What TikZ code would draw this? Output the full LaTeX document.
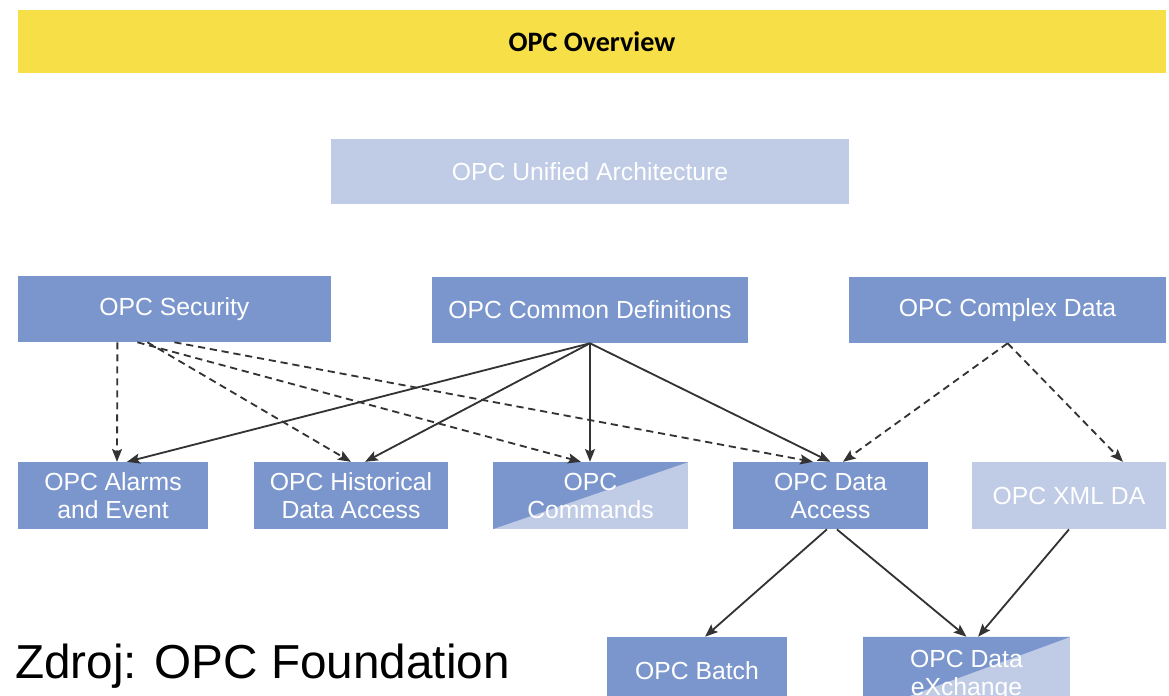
\documentclass[tikz,border=0pt]{standalone}
\usepackage{fontspec}
\setmainfont{Liberation Sans}
\newfontfamily\titlefont{Carlito}
\usetikzlibrary{arrows.meta}
\definecolor{OPCYellow}{HTML}{F7DF48}
\definecolor{OPCBlue}{HTML}{7B96CC}
\definecolor{OPCLight}{HTML}{C0CBE6}
\definecolor{OPCLine}{HTML}{333333}

\tikzset{
  spec/.style={fill=OPCBlue,text=white,inner sep=0pt,align=center,
    font=\fontsize{17.6}{19.9}\selectfont},
  specfaded/.style={spec,fill=OPCLight},
  spechalf/.style={spec,fill=OPCLight,path picture={
    \fill[OPCBlue] (path picture bounding box.north west) --
      (path picture bounding box.north east) --
      (path picture bounding box.south west) -- cycle;}},
  uses/.style={draw=OPCLine,line width=1.3pt,
    -{Stealth[length=0.32cm,width=0.25cm,inset=0.06cm]}},
  optional/.style={uses,dash pattern=on 0.18cm off 0.12cm}
}

\begin{document}
\begin{tikzpicture}[x=1cm,y=1cm]
\clip (0,0) rectangle (29.225,17.40);
\fill[white] (0,0) rectangle (29.225,17.40);

% header bar
\node[fill=OPCYellow,minimum width=28.70cm,minimum height=1.575cm,inner sep=0pt,
  font=\titlefont\bfseries\fontsize{20}{24}\selectfont] (title) at (14.80,16.36) {OPC Overview};

% top layers
\node[specfaded,minimum width=12.95cm,minimum height=1.625cm] (ua) at (14.75,13.11) {OPC Unified Architecture};
\node[spec,minimum width=7.825cm,minimum height=1.65cm] (sec) at (4.36,9.675) {OPC Security};
\node[spec,minimum width=7.90cm,minimum height=1.65cm] (cdef) at (14.75,9.65) {OPC Common Definitions};
\node[spec,minimum width=7.925cm,minimum height=1.65cm] (cpx) at (25.19,9.65) {OPC Complex Data};

% specifications
\node[spec,minimum width=4.75cm,minimum height=1.675cm] (alarm) at (2.825,5.01) {OPC Alarms\\and Event};
\node[spec,minimum width=4.85cm,minimum height=1.675cm] (hist) at (8.775,5.01) {OPC Historical\\Data Access};
\node[spechalf,minimum width=4.875cm,minimum height=1.675cm] (cmd) at (14.7625,5.01) {OPC\\Commands};
\node[spec,minimum width=4.875cm,minimum height=1.675cm] (da) at (20.7625,5.01) {OPC Data\\Access};
\node[specfaded,minimum width=4.85cm,minimum height=1.675cm] (xml) at (26.725,5.01) {OPC XML DA};
\node[spec,minimum width=4.50cm,minimum height=1.675cm] (batch) at (17.425,0.6375) {OPC Batch};
\node[spechalf,minimum width=5.175cm,minimum height=1.90cm] (dx) at (24.1625,0.525) {OPC Data\\eXchange};

% security (dashed)
\draw[optional] ([xshift=-1.425cm]sec.south) -- ([xshift=0.10cm]alarm.north);
\draw[optional] ([xshift=-0.675cm]sec.south) -- (hist.north);
\draw[optional] ([xshift=-0.925cm]sec.south) -- ([xshift=-0.24cm]cmd.north);
\draw[optional] (sec.south) -- ([xshift=-0.44cm]da.north);

% common definitions
\draw[uses] (cdef.south) -- ([xshift=0.35cm]alarm.north);
\draw[uses] (cdef.south) -- ([xshift=0.35cm]hist.north);
\draw[uses] (cdef.south) -- (cdef.south |- cmd.north);
\draw[uses] (cdef.south) -- (da.north);

% complex data (dashed)
\draw[optional] (cpx.south) -- ([xshift=0.31cm]da.north);
\draw[optional] (cpx.south) -- ([xshift=1.35cm]xml.north);

% data access / xml
\draw[uses] ([xshift=-0.09cm]da.south) -- ([xshift=0.20cm]batch.north);
\draw[uses] ([xshift=0.16cm]da.south) -- (dx.north);
\draw[uses] (xml.south) -- ([xshift=0.29cm]dx.north);

\node[anchor=base west,inner sep=0pt,font=\fontsize{33.9}{40}\selectfont] (src) at (0.375,0.425) {Zdroj: OPC Foundation};
\end{tikzpicture}
\end{document}
